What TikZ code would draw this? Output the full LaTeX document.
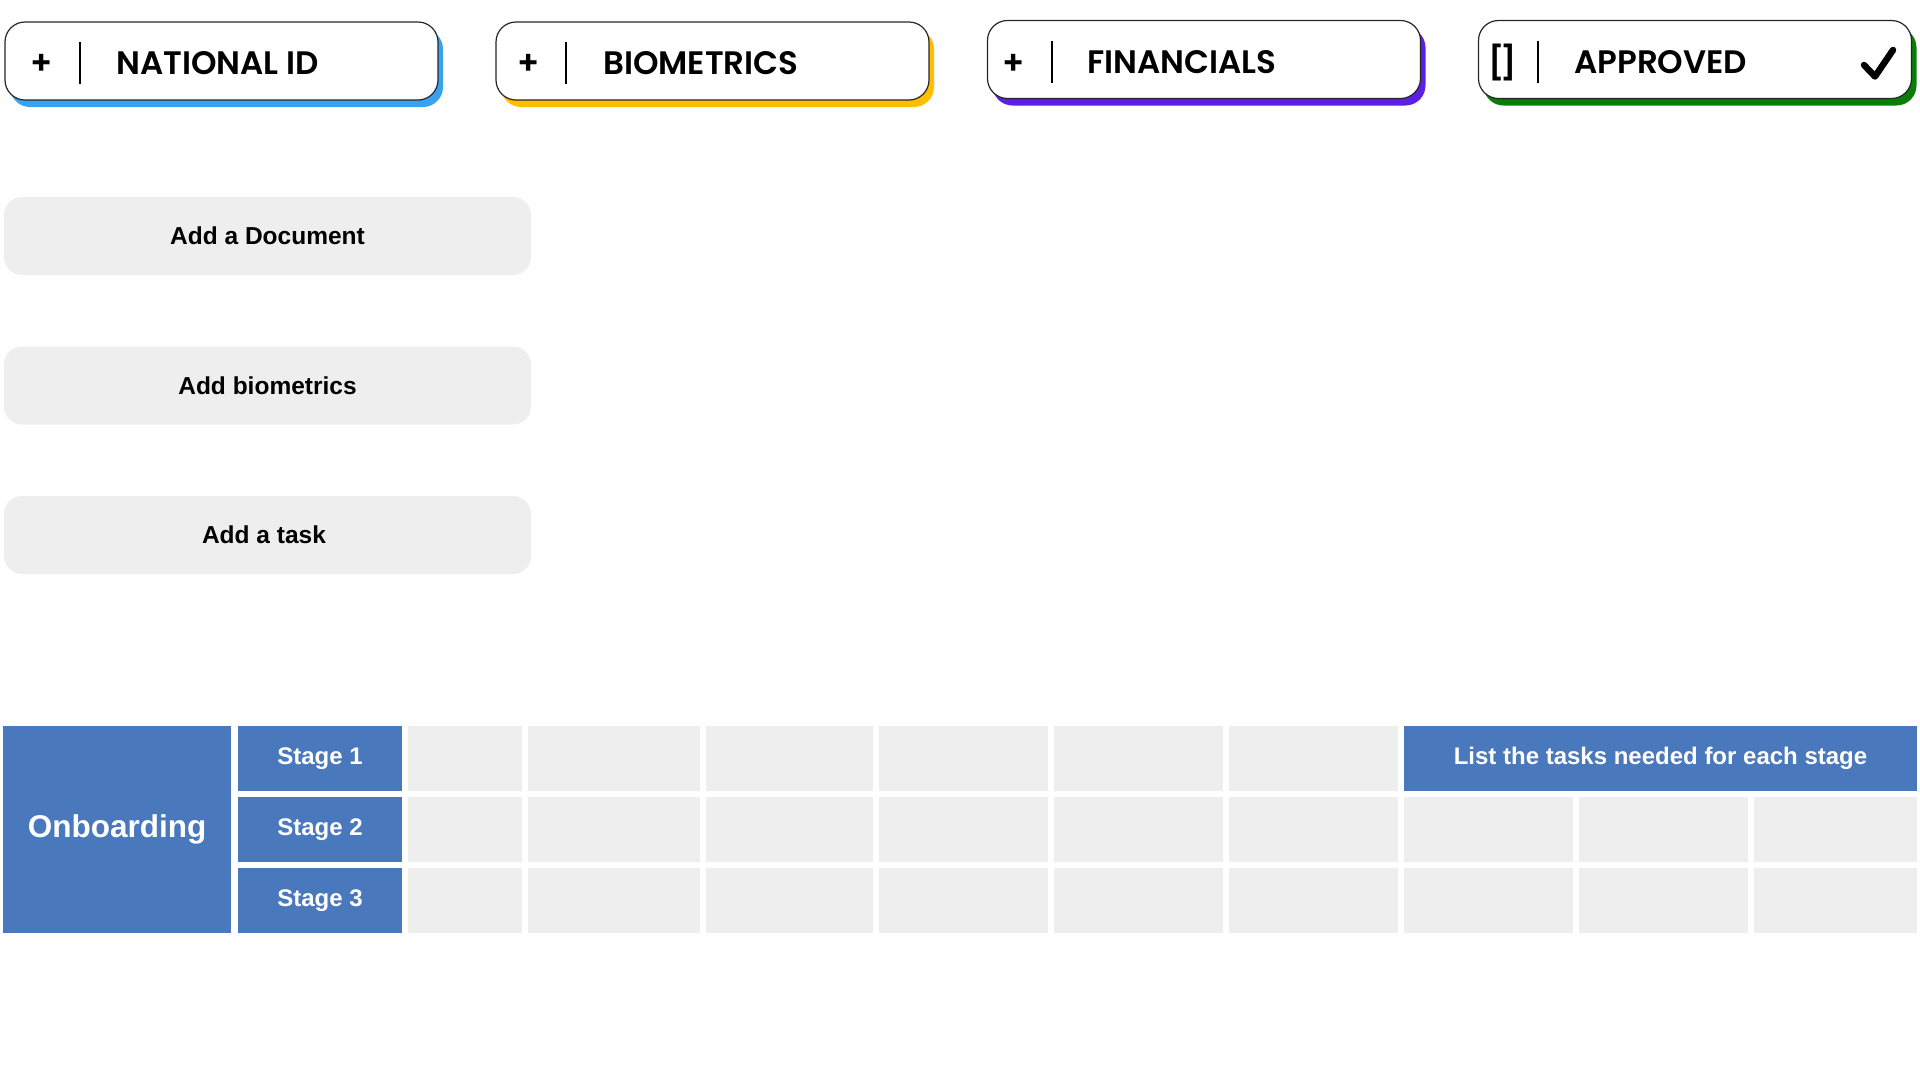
\documentclass[tikz,border=0pt]{standalone}
\usepackage{fontspec}
\setmainfont{Liberation Sans}
\newfontfamily\headfont{Poppins SemiBold}
\usetikzlibrary{shadows}
\definecolor{cellgray}{HTML}{EEEEEE}
\definecolor{tblue}{HTML}{4A78BC}
\definecolor{sblue}{HTML}{38A1F0}
\definecolor{syellow}{HTML}{FFBF00}
\definecolor{spurple}{HTML}{5B1FE6}
\definecolor{sgreen}{HTML}{087E08}
\tikzset{
  card/.style={draw=black!85, line width=1.2pt, fill=white, rounded corners=20pt,
    minimum width=433pt, minimum height=78pt, inner sep=0pt,
    drop shadow={shadow xshift=5pt, shadow yshift=-7pt, fill=#1, draw=none, opacity=1}},
  headtxt/.style={font=\headfont\fontsize{32.5}{32.5}\selectfont, text=black, inner sep=0pt, anchor=base west},
  headsym/.style={font=\headfont\fontsize{33}{33}\selectfont, text=black, inner sep=0pt},
  divider/.style={line width=2.7pt, black},
  checkline/.style={line width=6.5pt, black, line cap=round, line join=round},
  btn/.style={fill=cellgray, draw=none, rounded corners=18pt, minimum width=527pt, minimum height=78pt,
    inner sep=0pt, font=\bfseries\fontsize{24.5}{24.5}\selectfont, text=black},
  cell/.style={fill=cellgray, draw=none, minimum height=65pt, inner sep=0pt},
  bluecell/.style={fill=tblue, draw=none, inner sep=0pt, text=white,
    font=\bfseries\fontsize{24}{24}\selectfont},
}
\begin{document}
\begin{tikzpicture}[x=1pt, y=-1pt]
\useasboundingbox (0,0) rectangle (1920,1080);

% ---- header cards ----
\node[card=sblue] (card1) at (221.5,61) {};
\node[headsym] (plus1) at (42,64) {+};
\coordinate (d1a) at (80,42); \coordinate (d1b) at (80,84);
\draw[divider] (d1a) -- (d1b);
\node[headtxt] (t1) at (116,74) {NATIONAL ID};

\node[card=syellow] (card2) at (712.5,61) {};
\node[headsym] (plus2) at (529,64) {+};
\coordinate (d2a) at (566,42); \coordinate (d2b) at (566,84);
\draw[divider] (d2a) -- (d2b);
\node[headtxt] (t2) at (603,74) {BIOMETRICS};

\node[card=spurple] (card3) at (1204,59.5) {};
\node[headsym] (plus3) at (1014,64) {+};
\coordinate (d3a) at (1052,41); \coordinate (d3b) at (1052,83);
\draw[divider] (d3a) -- (d3b);
\node[headtxt] (t3) at (1087,73) {FINANCIALS};

\node[card=sgreen] (card4) at (1695,59.5) {};
\node[headsym] (plus4) at (1502.5,62.5) {[\kern-4.5pt]};
\coordinate (d4a) at (1538,41); \coordinate (d4b) at (1538,83);
\draw[divider] (d4a) -- (d4b);
\node[headtxt] (t4) at (1574,73) {APPROVED};
\coordinate (ck1) at (1864,65);
\coordinate (ck2) at (1875,76.5);
\coordinate (ck3) at (1893,50);
\draw[checkline] (ck1) -- (ck2) -- (ck3);

% ---- buttons ----
\node[btn] (b1) at (267.5,236) {Add a Document};
\node[btn] (b2) at (267.5,385.5) {Add biometrics};
\node[btn] (b3) at (267.5,535) {\hspace*{-7pt}Add a task};

% ---- table ----
\node[bluecell, minimum width=228pt, minimum height=207pt,
  font=\bfseries\fontsize{31.5}{31.5}\selectfont] (onb) at (117,829.5) {Onboarding};
\node[bluecell, minimum width=164pt, minimum height=65pt] (s1) at (320,758.5) {Stage 1};
\node[bluecell, minimum width=164pt, minimum height=65pt] (s2) at (320,829.5) {Stage 2};
\node[bluecell, minimum width=164pt, minimum height=65pt] (s3) at (320,900.5) {Stage 3};

\foreach \c/\x/\w in {0/408/114,1/528/172,2/706/167,3/879/169,4/1054/169,5/1229/169}
  \node[cell, anchor=west, minimum width=\w*1pt] (c1-\c) at (\x,758.5) {};
\foreach \r/\y in {2/829.5,3/900.5}
  \foreach \c/\x/\w in {0/408/114,1/528/172,2/706/167,3/879/169,4/1054/169,5/1229/169,6/1404/169,7/1579/169,8/1754/163}
    \node[cell, anchor=west, minimum width=\w*1pt] (c\r-\c) at (\x,\y) {};
\node[bluecell, minimum width=513pt, minimum height=65pt] (list) at (1660.5,758.5) {List the tasks needed for each stage};
\end{tikzpicture}
\end{document}
